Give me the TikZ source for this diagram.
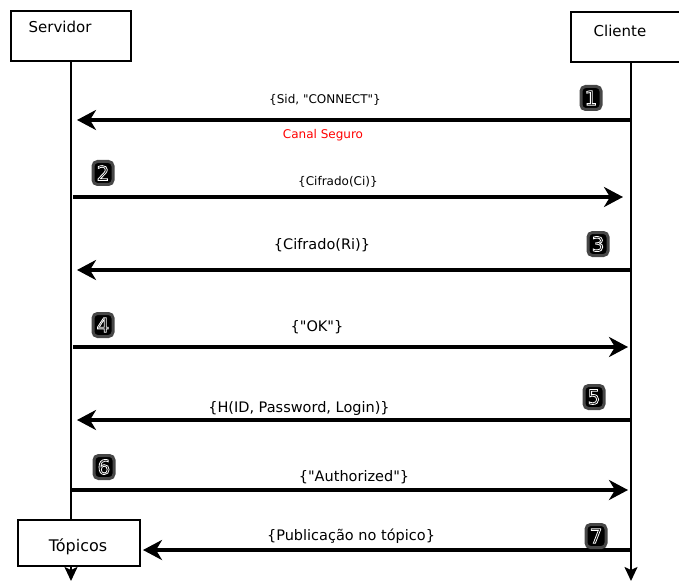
\documentclass[tikz,border=0pt]{standalone}
\usepackage{fontspec}
\setmainfont{DejaVu Sans}
\usetikzlibrary{arrows.meta}
% outlined step digit: black glyph with a white rim (fill + stroke text mode)
\newcommand{\stepdigit}[1]{%
  \special{pdf:literal direct 1 1 1 RG 0.8 w 2 Tr}#1\special{pdf:literal direct 0 Tr 0 0 0 RG 0.4 w}}
\begin{document}
\begin{tikzpicture}[x=1pt,y=-1pt,
  actorbox/.style={draw, line width=2pt, minimum width=120pt, minimum height=50pt, inner sep=0pt},
  actortext/.style={font=\fontsize{15}{16}\selectfont, inner sep=0pt},
  lifeline/.style={line width=2pt},
  msg/.style={line width=3.5pt, -{Stealth[length=19pt,width=20pt,inset=6pt]}},
  lifearrow/.style={line width=2pt, -{Stealth[length=14pt,width=13pt,inset=3pt]}},
  msglabel/.style={font=\fontsize{12}{13}\selectfont, inner sep=0pt},
  biglabel/.style={font=\fontsize{14.5}{15}\selectfont, inner sep=0pt},
  badge/.style={draw=black!72, line width=3pt, fill=black, rounded corners=4.5pt,
    text=black, font=\fontsize{20}{20}\selectfont, minimum width=20pt,
    minimum height=23pt, inner sep=0pt}
]
\useasboundingbox (0,0) rectangle (679,585);

% participants
\node[actorbox] (srv) at (71,36) {};
\node[actortext] (srvlbl) at (60,27) {Servidor};
\node[actorbox] (cli) at (631,37.5) {};
\node[actortext] (clilbl) at (620,31) {Cliente};
\node[actorbox, minimum width=122pt, minimum height=46pt] (top) at (79,543) {};
\node[font=\fontsize{16}{17}\selectfont, inner sep=0pt] (toplbl) at (78,547) {Tópicos};

% points on the server lifeline
\coordinate (s1) at (77,120);
\coordinate (s2) at (73,197);
\coordinate (s3) at (77,270);
\coordinate (s4) at (73,347);
\coordinate (s5) at (77,420);
\coordinate (s6) at (71,490);
\coordinate (stop) at (71,520);
\coordinate (send) at (71,581);
% points on the client lifeline
\coordinate (c1) at (631,120);
\coordinate (c2) at (623,197);
\coordinate (c3) at (631,270);
\coordinate (c4) at (628,347);
\coordinate (c5) at (631,420);
\coordinate (c6) at (628,490);
\coordinate (c7) at (631,550);
\coordinate (cend) at (631,581);
\coordinate (t7) at (143,550);

% lifelines
\draw[lifeline] (srv.south -| stop) -- (stop);
\draw[lifearrow] (top.south -| send) -- (send);
\draw[lifearrow] (cli.south) -- (cend);

% messages
\draw[msg] (c1) -- (s1);
\draw[msg] (s2) -- (c2);
\draw[msg] (c3) -- (s3);
\draw[msg] (s4) -- (c4);
\draw[msg] (c5) -- (s5);
\draw[msg] (s6) -- (c6);
\draw[msg] (c7) -- (t7);

% message labels
\node[msglabel] (l1) at (325,100) {\{Sid, \textquotedbl CONNECT\textquotedbl\}};
\node[msglabel, text=red] (lcanal) at (323,135) {Canal Seguro};
\node[msglabel] (l2) at (338,182) {\{Cifrado(Ci)\}};
\node[biglabel] (l3) at (322,245) {\{Cifrado(Ri)\}};
\node[biglabel] (l4) at (317,327) {\{\textquotedbl OK\textquotedbl\}};
\node[biglabel] (l5) at (299,408) {\{H(ID, Password, Login)\}};
\node[biglabel] (l6) at (354,477) {\{\textquotedbl Authorized\textquotedbl\}};
\node[biglabel] (l7) at (351,536) {\{Publicação no tópico\}};

% step numbers (drawn last)
\node[badge] (b1) at (591,98) {\stepdigit{1}};
\node[badge] (b2) at (103,173) {\stepdigit{2}};
\node[badge] (b3) at (598,244) {\stepdigit{3}};
\node[badge] (b4) at (103,325) {\stepdigit{4}};
\node[badge] (b5) at (594,397) {\stepdigit{5}};
\node[badge] (b6) at (104,467) {\stepdigit{6}};
\node[badge] (b7) at (596,536) {\stepdigit{7}};
\end{tikzpicture}
\end{document}
